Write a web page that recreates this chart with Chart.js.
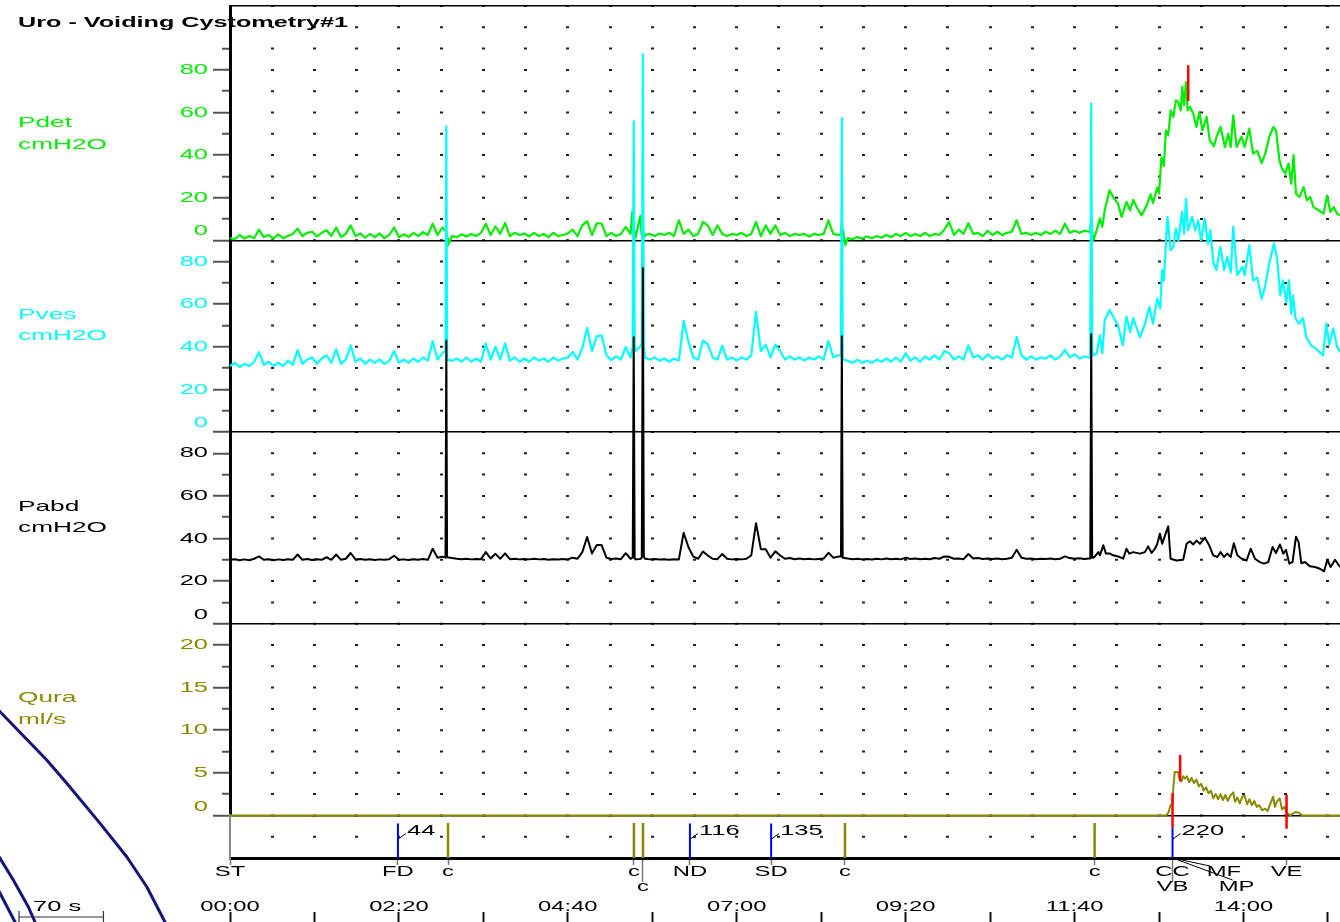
<!DOCTYPE html>
<html>
<head>
<meta charset="utf-8">
<title>Uro - Voiding Cystometry#1</title>
<script src="https://cdn.jsdelivr.net/npm/chart.js@4.4.1/dist/chart.umd.min.js"></script>
<style>
  html, body { margin: 0; padding: 0; background: #fff; overflow: hidden; }
  #wrap { position: relative; width: 1340px; height: 922px; }
</style>
</head>
<body>
<div id="wrap"><canvas id="uroChart"></canvas></div>
<script>
const FONT = '"Liberation Sans", Arial, Helvetica, sans-serif';
const GREEN = '#00ee00';
const CYAN = '#00ffff';
const OLIVE = '#8a8a00';

// resting part of the record: one reading every 4 s, 0..712 s
const restSecs = [];
for (let s = 0; s <= 712; s += 4) restSecs.push(s);

const pdetRest = [
  1, 0.5, 2.5, 0.8, 2, 1, 5, 1.5, 2.5, 0.8,
  2.8, 1, 2, 3, 5.5, 2, 3.5, 4, 1.8, 3.5,
  4.7, 2, 6, 1.5, 3, 7, 2, 3.2, 1.2, 3,
  1.5, 3.2, 1, 2.5, 6, 1.5, 2.8, 1.6, 3.5, 2,
  3.8, 2.5, 7.8, 2.5, 6, 1, 2, 1.5, 2.8, 1.8,
  3, 2, 3.5, 7.8, 2.5, 6.5, 3, 8.1, 2, 3.5,
  2.5, 3.2, 1.8, 3.5, 2, 3, 1.5, 3.5, 2, 2.5,
  3.2, 5, 2, 7, 9, 2.5, 8, 7.8, 2, 3.5,
  2, 3, 6.3, 3, 1, 11.4, 2.5, 3, 2, 3.2,
  2.5, 3.5, 2, 9.4, 3, 5, 2, 3, 8.6, 7,
  2.5, 7, 3, 2, 3, 2.5, 3.5, 2, 3, 8.6,
  2, 7, 3, 7, 2.5, 3.5, 2, 3, 2.5, 3,
  1.8, 3, 2.5, 3, 9.4, 3, 2.5, 5, 1, 0.5,
  1.5, 0.8, 1.8, 1, 2, 1.2, 2.5, 1.5, 3, 2,
  3.5, 2, 3, 2, 3.5, 2, 3, 2.5, 5, 8.6,
  2.5, 5, 3, 8, 3, 3.5, 2, 4.5, 2.5, 4,
  2.5, 3.5, 4, 9.4, 3, 3.5, 2.5, 3.5, 2.5, 4,
  3, 4.5, 3, 7.8, 3.5, 4.5, 3.5, 4.5, 4
];
const pvesRest = [
  31, 32.5, 30.5, 32, 31, 33, 37.5, 31.5, 33, 31,
  32.5, 31, 33.5, 31.5, 38.4, 32, 34, 35, 32, 34.5,
  36, 32.5, 38.8, 32, 34, 40.7, 33, 34.5, 32, 34,
  32.5, 34, 32, 33.5, 37.9, 32.5, 34, 32.5, 34.5, 33,
  35, 33.5, 42.6, 34, 37, 34, 33.5, 34.5, 33, 35,
  33, 34.5, 33, 41.6, 34, 40, 34, 41.6, 33.5, 35,
  33, 34.5, 33, 35, 33.5, 34.5, 33, 35, 33.5, 34.5,
  35, 37.6, 34, 39.4, 48.8, 38, 44.9, 45.4, 36, 33.7,
  35.5, 34, 39.9, 35, 38, 40, 35, 34, 35, 33.5,
  34.5, 33, 34.5, 33.5, 52.1, 42.3, 35, 34, 43, 41.3,
  35, 34, 40.5, 34, 35, 33.5, 35, 34, 36, 56.3,
  38, 41, 35, 41, 38, 34, 35.5, 34, 35, 33.5,
  35, 34, 35.5, 34, 42.7, 35, 36, 34, 33.5, 32.5,
  34, 32.5, 33.5, 32.5, 34, 33, 34.5, 33, 35, 33,
  37, 33.5, 35, 33, 35.5, 34, 36, 34, 38, 37,
  34, 35.5, 34, 40.7, 35, 36, 34, 36.5, 34.5, 35.5,
  34, 36, 35, 44.6, 36, 34, 35.5, 34, 35, 34.5,
  36, 34, 35.5, 38.5, 35, 36.5, 34.5, 35.5, 35
];
const pabdRest = [
  30, 30.3, 29.8, 30.2, 29.8, 30.5, 31.6, 30, 30.3, 29.8,
  30.2, 29.9, 30.3, 30, 32.5, 30, 30.4, 29.9, 30.3, 30,
  31.2, 30, 32.5, 30, 30.5, 33.2, 30.2, 30.4, 30, 30.3,
  29.9, 30.2, 30, 30.3, 31.9, 30, 30.2, 29.9, 30.3, 30,
  30.4, 30, 35.2, 31, 31.5, 31.2, 30.8, 30.5, 30.3, 30.5,
  30.2, 30.4, 30.3, 33.6, 30.6, 32.8, 30.5, 33, 30.3, 30.5,
  30.2, 30.4, 30.2, 30.5, 30.2, 30.4, 30, 30.3, 30.1, 30.4,
  30.2, 31, 30.5, 33.6, 40.7, 33, 36.9, 36.9, 31, 30.4,
  30.6, 30.3, 33.1, 30.5, 30.2, 30.4, 30.5, 30.2, 30.4, 30.1,
  30.3, 30, 30.3, 30.1, 42.7, 35.9, 31.5, 30.5, 33.9, 32,
  30.5, 30.3, 32.7, 30.5, 30.2, 30.4, 30.2, 30.5, 32, 47.2,
  35, 34.9, 31, 34, 32, 30.5, 30.8, 30.3, 30.6, 30.3,
  30.5, 30.2, 30.4, 30.6, 33.3, 31, 31.5, 31, 30.6, 30.3,
  30.5, 30.2, 30.4, 30.1, 30.5, 30.2, 30.6, 30.3, 30.5, 30.2,
  31, 30.4, 30.6, 30.3, 30.5, 30.3, 30.8, 30.5, 31.6, 31.4,
  30.5, 30.6, 30.3, 32.7, 30.6, 30.8, 30.4, 30.6, 30.4, 30.6,
  30.3, 30.5, 31, 34.7, 31, 30.5, 30.6, 30.3, 30.5, 30.4,
  30.6, 30.3, 30.5, 31.6, 30.8, 30.5, 30.7, 30.4, 30.6
];

// cough spikes (narrow), shared clock for Pves and Pabd
const spikeSecs = [178.6, 179.3, 179.9, 333.8, 334.6, 335.4, 341.3, 342.2, 343.0, 506.4, 507.1, 507.8, 713.0, 713.8, 714.6];
const pvesSpike = [38, 143.5, 40, 40, 145.8, 42, 42, 177.3, 40, 36, 147.4, 36, 35, 154.3, 38];
const pabdSpike = [31, 133, 31.5, 31, 134.5, 30.8, 31, 167, 31.5, 31.5, 135, 31.2, 30.6, 135.9, 31];
const pdetSpikeSecs = [179.3, 180.6, 333.4, 334.6, 335.4, 341.3, 342.2, 343.0, 506.4, 507.1, 507.8, 510, 713.0, 713.8, 714.6];
const pdetSpike = [4, -2.3, 13.3, 2, 4, 2, 6, 1, 3, 9, 2, -2.3, 4, 11, 3];

// voiding phase, read point by point
const pdetVoidSecs = [715.5, 718.3, 721, 723, 725, 729, 732, 736, 739, 743, 746, 748.7, 751.5, 755.6, 759.8, 763, 765, 768.5, 770, 772,
  774, 775.7, 777.6, 779.7, 781.8, 784, 786, 788, 789.3, 790.7, 792.4, 793.7, 795.6, 798.4, 801, 803.4, 806, 809.5, 812, 815.5,
  817.7, 821, 824.6, 827.4, 829.4, 831.5, 834.3, 838.4, 841, 844.8, 848, 851.4, 855, 857.8, 861.4, 864.7, 867, 869.8, 871.8, 874.6,
  877.3, 879.6, 881.5, 883.5, 886.5, 889.8, 892.6, 895.4, 898, 902.3, 906.4, 909.3, 912, 914.8, 917.6, 920];
const pdetVoid = [0, 4.7, 10.2, 6.3, 14.1, 23.5, 20.3, 17.2, 11, 18, 14.1, 19, 15.5, 11.7, 16.4, 21.6, 17.5, 24.7, 22, 38.8,
  34.9, 51.6, 49.3, 61, 57.9, 65.7, 64.9, 61, 72, 63.4, 74.3, 61, 62.6, 59.5, 53.2, 60.2, 51.6, 57.9, 47, 44.2,
  48.6, 53.2, 43.8, 50, 43.8, 58.7, 43.8, 48.6, 43.8, 52.4, 40.7, 42, 36.3, 40.2, 48.6, 53.2, 51.6, 37.6, 33.8, 31.3,
  36, 26.6, 40, 22, 20.3, 25, 18.8, 20.3, 15.6, 14.1, 12.5, 21, 13.3, 15.6, 12.5, 11.7];

const pvesVoidSecs = [715.5, 718.3, 721, 723, 725, 729, 732, 736, 740, 743, 746, 748.7, 754, 758, 762, 765, 768.5, 771, 772.5, 774,
  777, 779.7, 781.8, 784, 786, 789, 790.7, 792.4, 794, 797.5, 800, 802.5, 804.8, 808, 810.5, 812.5, 815, 817.5, 820.8, 824,
  826.5, 829.5, 831.5, 834.8, 839, 841, 844.8, 848, 851.4, 855, 857.8, 861.4, 865.2, 867.8, 870.5, 872.7, 875.5, 877.7, 879.6, 881,
  883.2, 886, 889.3, 892, 896, 900, 906, 908.7, 911, 914.4, 917.6, 920];
const pvesVoid = [36, 36.8, 45.4, 37, 52.6, 57.3, 54.2, 50, 40.7, 54.2, 47, 53.5, 44.6, 50, 58.7, 50.9, 62.6, 58, 76, 71.2,
  101, 85.3, 86.9, 95.5, 90, 103.3, 93.1, 109.5, 94.7, 101, 94.7, 99.4, 90, 100, 88.4, 94.7, 79.8, 76, 86.9, 76,
  82.2, 75, 96.3, 73.6, 77.5, 73.6, 87.6, 71.2, 72.5, 62.6, 68, 79.2, 88.4, 82, 64.2, 71.2, 61, 71.2, 55.5, 64.2,
  53.2, 50.9, 53.5, 44.6, 40.7, 39.1, 36, 50.9, 41, 48.6, 39.9, 37.5];

const pabdVoidSecs = [715.5, 716.9, 719.7, 721, 723.8, 726, 729.3, 732, 737.6, 740.3, 743, 745.3, 748.6, 754.2, 758.3, 761, 763.9, 766.6, 768.5, 770.8,
  772.6, 775, 777.6, 779.6, 784.5, 790, 792.9, 795.6, 798.4, 801.1, 803.9, 808, 811.6, 814.9, 818.3, 821, 823.8, 826.6, 829.4, 832,
  834.9, 838.5, 842.6, 846, 849.5, 853.6, 857, 860.5, 864.1, 866.9, 870.2, 873, 875.2, 878, 880.7, 883.5, 885.7, 887.9, 891, 895,
  899.3, 903.4, 906.8, 909.5, 912.3, 915.9, 920];
const pabdVoid = [31, 31.6, 33.6, 32.1, 36.8, 32.9, 32.9, 32.1, 31.3, 30.5, 35.2, 32.9, 33.6, 32.9, 33.6, 36.3, 33.2, 35.2, 37.5, 42.3,
  37.5, 41.5, 45.7, 30.5, 29.7, 30, 37.5, 38.7, 37.2, 39, 37.5, 40.4, 36.8, 32.1, 31.3, 33.6, 31.3, 32.9, 31.3, 37.8,
  32.1, 30.5, 29.7, 35.2, 30.5, 28.9, 28.2, 28.9, 36, 33.2, 37.2, 32.9, 34.7, 28.2, 29, 40.8, 38.3, 28.4, 29, 27,
  26.6, 25.8, 24.6, 30, 26.6, 30, 26.6];

const quraSecs = [0, 776, 778, 779.5, 781, 782, 783, 785.6, 787, 788.5, 790, 791.5, 793, 795, 797, 799, 801, 803, 805, 807,
  809, 811, 813, 815, 817, 819, 821, 823, 825, 827, 829, 831.5, 833, 835, 837, 839, 841, 843, 845, 847,
  849, 851, 853, 855.6, 858, 860, 862, 864.6, 866, 868, 870, 872, 874, 876, 878.6, 881, 883, 886, 888.6, 920];
const quraVals = [0, 0, 0.4, 1.2, 1.3, 3.5, 5.1, 5.1, 4.3, 4.0, 4.6, 4.3, 4.6, 3.9, 4.4, 3.8, 4.2, 3.4, 3.7, 2.9,
  3.3, 2.6, 2.9, 2.0, 2.5, 1.9, 2.5, 1.8, 2.4, 1.7, 2.3, 2.7, 1.6, 2.1, 1.4, 2.2, 2.3, 1.3, 1.9, 1.2,
  1.7, 1.0, 1.2, 0.6, 0.8, 0.5, 1.3, 2.2, 1.0, 1.7, 2.0, 0.7, 1.0, 0.3, 0, 0.2, 0.4, 0.3, 0, 0];

// event row
const eventSecs = [0, 139.2, 180.7, 334.8, 342.3, 381.2, 448.5, 509.7, 716.6, 781.2, 823.8, 834.3, 875.7];
const eventLabels = ['ST', 'FD', 'c', 'c', ['', 'c'], 'ND', 'SD', 'c', 'c', ['CC', 'VB'], 'MF', ['', 'MP'], 'VE'];
const blueMarkSecs = [139.2, 381.2, 448.5, 781.2];
const blueMarkTop = [1.62, 1.62, 1.62, 1.42];
const cMarkSecs = [180.7, 334.8, 342.3, 509.7, 716.6];
const redQuraSecs = [781.2, 787.5, 875.7];
const redQuraLow = [-1.45, 4.0, -1.57];
const redQuraHigh = [2.6, 7.1, 2.45];
const redPdetSecs = [794.2];
const redPdetLow = [65.4];
const redPdetHigh = [82.2];
const volumeSecs = [139.2, 381.2, 448.5, 781.2];
const volumeLabels = ['44', '116', '135', '220'];

// time ruler
const timeTickSecs = [0, 70, 140, 210, 280, 350, 420, 490, 560, 630, 700, 770, 840, 910];
const timeTickLabels = ['00:00', '', '02:20', '', '04:40', '', '07:00', '', '09:20', '', '11:40', '', '14:00', ''];
const dotSecs = [];
for (let s = 35; s < 920; s += 35) dotSecs.push(s);

// curves of the window lying behind, bottom left (time s, Qura units)
const behindA_secs = [-48.1, -53.9, -69.0, -85.6, -107.7, -135.3, -151.9, -190.6, -194.8];
const behindA_vals = [-14.15, -12.51, -8.37, -4.85, -0.93, 3.77, 6.5, 12.17, 12.84];
const behindB_secs = [-159.1, -161.6, -167.2, -179.6, -190.6, -193.9];
const behindB_vals = [-13.45, -12.51, -10.72, -7.58, -5.04, -4.3];
const behindC_secs = [-176.5, -178.2, -190.6, -193.1];
const behindC_vals = [-13.2, -12.51, -9.14, -8.5];

function trace(parts) {
  const pts = [];
  parts.forEach(([ts, vs]) => ts.forEach((t, i) => pts.push({ x: t, y: vs[i] })));
  return pts.sort((a, b) => a.x - b.x);
}
function strokes(ts, lo, hi) {
  const pts = [];
  ts.forEach((t, i) => {
    pts.push({ x: t, y: Array.isArray(lo) ? lo[i] : lo });
    pts.push({ x: t, y: Array.isArray(hi) ? hi[i] : hi });
    pts.push({ x: t, y: null });
  });
  return pts;
}
function raw(ts, vs) {
  return ts.map((t, i) => ({ x: t, y: vs[i] }));
}

// the recorder prints with a wide (horizontally stretched) sans face
const canvas = document.getElementById('uroChart');
const ctx2d = canvas.getContext('2d');
const plainFillText = ctx2d.fillText;
ctx2d.textStretch = 1.7;
ctx2d.fillText = function (text, x, y, maxWidth) {
  this.save();
  this.translate(x, y);
  this.scale(this.textStretch, 1);
  if (maxWidth === undefined) plainFillText.call(this, text, 0, 0);
  else plainFillText.call(this, text, 0, 0, maxWidth / this.textStretch);
  this.restore();
};

function fitLeft(axis) {
  axis.width = 230;
  axis.paddingTop = 0;
  axis.paddingBottom = 0;
}
function panelAxis(o) {
  return {
    type: 'linear', position: 'left', stack: 'panels', stackWeight: o.rows, weight: o.weight,
    min: 0, max: o.max,
    afterBuildTicks: axis => { axis.ticks = o.ticks.map(v => ({ value: v })); },
    afterFit: fitLeft,
    border: { display: true, color: '#000', width: 3 },
    grid: {
      color: c => (c.tick && (c.tick.value === 0 || c.tick.value === o.max)) ? '#000' : 'rgba(0,0,0,0)',
      lineWidth: 1.5,
      tickLength: 17,
      tickWidth: 2,
      tickColor: c => (c.tick && c.tick.value === o.max) ? 'rgba(0,0,0,0)' : '#555',
      tickBorderDash: c => (c.tick && c.tick.value % o.major === 0) ? [] : [0, 9, 8, 0]
    },
    ticks: {
      color: o.color, padding: 5, autoSkip: false,
      font: { family: FONT, size: 15 },
      callback: v => v === 0 ? ['0', ''] : (v % o.major === 0 && v !== o.max ? String(v) : '')
    }
  };
}

const lineBase = { pointRadius: 0, pointHoverRadius: 0, tension: 0, fill: false, clip: false, xAxisID: 'x', borderJoinStyle: 'round' };

const paperText = {
  id: 'paperText',
  afterDraw(chart) {
    const { ctx, scales, chartArea } = chart;
    const x = scales.x, ev = scales.yEv;
    ctx.save();
    ctx.textBaseline = 'middle';
    ctx.textAlign = 'left';

    ctx.fillStyle = '#000';
    ctx.font = 'bold 14px ' + FONT;
    ctx.textStretch = 1.8;
    ctx.fillText('Uro - Voiding Cystometry#1', 18, 23);

    ctx.font = '15px ' + FONT;
    ctx.textStretch = 1.75;
    [
      { axis: 'yDet', name: 'Pdet', unit: 'cmH2O', color: GREEN, at: [55, 45] },
      { axis: 'yVes', name: 'Pves', unit: 'cmH2O', color: CYAN, at: [55, 45] },
      { axis: 'yAbd', name: 'Pabd', unit: 'cmH2O', color: '#000', at: [55, 45] },
      { axis: 'yQ', name: 'Qura', unit: 'ml/s', color: OLIVE, at: [13.75, 11.25] }
    ].forEach(p => {
      const sc = scales[p.axis];
      ctx.fillStyle = p.color;
      ctx.fillText(p.name, 18, sc.getPixelForValue(p.at[0]));
      ctx.fillText(p.unit, 18, sc.getPixelForValue(p.at[1]));
    });

    // infused volume notes with their small leaders
    ctx.textStretch = 1.7;
    ctx.fillStyle = '#000';
    ctx.strokeStyle = '#000';
    ctx.lineWidth = 1;
    volumeSecs.forEach((t, i) => {
      const px = x.getPixelForValue(t);
      ctx.beginPath();
      ctx.moveTo(px, ev.getPixelForValue(0.88));
      ctx.lineTo(px + 8, ev.getPixelForValue(1.15));
      ctx.stroke();
      ctx.fillText(volumeLabels[i], px + 9, ev.getPixelForValue(1.26));
    });

    // MF / MP leaders
    const vb = x.getPixelForValue(781.2);
    ctx.beginPath();
    ctx.moveTo(vb, chartArea.bottom);
    ctx.lineTo(x.getPixelForValue(823.8) - 14, chartArea.bottom + 8);
    ctx.moveTo(vb, chartArea.bottom);
    ctx.lineTo(x.getPixelForValue(834.3) - 4, chartArea.bottom + 22);
    ctx.stroke();

    // 70 s scale bar
    const span = x.getPixelForValue(70) - x.getPixelForValue(0);
    ctx.strokeStyle = '#333';
    ctx.lineWidth = 1.2;
    ctx.beginPath();
    ctx.moveTo(19, 917); ctx.lineTo(19 + span, 917);
    ctx.moveTo(19, 911); ctx.lineTo(19, 922);
    ctx.moveTo(19 + span, 911); ctx.lineTo(19 + span, 922);
    ctx.stroke();
    ctx.fillText('70 s', 33, 907);
    ctx.restore();
  }
};

Chart.defaults.font.family = FONT;

new Chart(canvas, {
  type: 'line',
  data: {
    datasets: [
      { ...lineBase, label: 'Pdet mark', data: strokes(redPdetSecs, redPdetLow, redPdetHigh), yAxisID: 'yDet', borderColor: '#ff0000', borderWidth: 2.5 },
      { ...lineBase, label: 'Qura marks', data: strokes(redQuraSecs, redQuraLow, redQuraHigh), yAxisID: 'yQ', borderColor: '#ff0000', borderWidth: 2.5 },
      { ...lineBase, label: 'volume marks', data: strokes(blueMarkSecs, 0, blueMarkTop), yAxisID: 'yEv', borderColor: '#0000ff', borderWidth: 2 },
      { ...lineBase, label: 'cough marks', data: strokes(cMarkSecs, 0, 1.64), yAxisID: 'yEv', borderColor: OLIVE, borderWidth: 2.5 },
      { ...lineBase, label: 'Pabd', data: trace([[restSecs, pabdRest], [spikeSecs, pabdSpike], [pabdVoidSecs, pabdVoid]]), yAxisID: 'yAbd', borderColor: '#000', borderWidth: 2 },
      { ...lineBase, label: 'Pves', data: trace([[restSecs, pvesRest], [spikeSecs, pvesSpike], [pvesVoidSecs, pvesVoid]]), yAxisID: 'yVes', borderColor: CYAN, borderWidth: 2.2 },
      { ...lineBase, label: 'Pdet', data: trace([[restSecs, pdetRest], [pdetSpikeSecs, pdetSpike], [pdetVoidSecs, pdetVoid]]), yAxisID: 'yDet', borderColor: GREEN, borderWidth: 2.2 },
      { ...lineBase, label: 'Qura', data: trace([[quraSecs, quraVals]]), yAxisID: 'yQ', borderColor: OLIVE, borderWidth: 2 },
      { ...lineBase, label: 'behind A', data: raw(behindA_secs, behindA_vals), yAxisID: 'yQ', borderColor: '#14147a', borderWidth: 3 },
      { ...lineBase, label: 'behind B', data: raw(behindB_secs, behindB_vals), yAxisID: 'yQ', borderColor: '#14147a', borderWidth: 3 },
      { ...lineBase, label: 'behind C', data: raw(behindC_secs, behindC_vals), yAxisID: 'yQ', borderColor: '#14147a', borderWidth: 3 }
    ]
  },
  options: {
    responsive: true,
    maintainAspectRatio: false,
    animation: false,
    events: [],
    layout: { autoPadding: false, padding: { left: 0, top: 6, right: 0, bottom: 0 } },
    plugins: { legend: { display: false }, tooltip: { enabled: false }, title: { display: false } },
    scales: {
      x: {
        type: 'linear', position: 'bottom', weight: 0, min: 0, max: 920,
        afterBuildTicks: axis => { axis.ticks = dotSecs.map(v => ({ value: v })); },
        afterFit: axis => { axis.height = 0; axis.paddingLeft = 0; axis.paddingRight = 0; },
        border: { display: false, dash: [2, 19.3], dashOffset: 1 },
        grid: { drawTicks: false, color: '#222', lineWidth: 3 },
        ticks: { display: false }
      },
      xEv: {
        type: 'linear', position: 'bottom', weight: 1, min: 0, max: 920,
        afterBuildTicks: axis => { axis.ticks = eventSecs.map(v => ({ value: v })); },
        afterFit: axis => { axis.height = 54; axis.paddingLeft = 0; axis.paddingRight = 0; },
        border: { display: false },
        grid: {
          drawOnChartArea: false, tickLength: 24, tickWidth: 1.5,
          tickColor: c => {
            const t = [].concat(eventLabels[c.index]).join('');
            return (t === 'MF' || t === 'MP') ? 'rgba(0,0,0,0)' : '#777';
          },
          tickBorderDash: c => Array.isArray(eventLabels[c.index]) ? [] : [7, 100]
        },
        ticks: {
          autoSkip: false, maxRotation: 0, minRotation: 0, padding: -17.5, color: '#000',
          font: { family: FONT, size: 14, lineHeight: '15px' },
          callback: (v, i) => eventLabels[i]
        }
      },
      xTime: {
        type: 'linear', position: 'bottom', weight: 2, min: 0, max: 920,
        afterBuildTicks: axis => { axis.ticks = timeTickSecs.map(v => ({ value: v })); },
        afterFit: axis => { axis.height = 10; axis.paddingLeft = 0; axis.paddingRight = 0; },
        border: { display: false },
        grid: { drawOnChartArea: false, tickLength: 10, tickWidth: 2, tickColor: '#111' },
        ticks: {
          autoSkip: false, maxRotation: 0, minRotation: 0, mirror: true, padding: -4, color: '#000',
          font: { family: FONT, size: 14 },
          callback: (v, i) => timeTickLabels[i]
        }
      },
      yDet: panelAxis({ rows: 11, weight: 5, max: 110, major: 20, color: GREEN, ticks: [0, 10, 20, 30, 40, 50, 60, 70, 80, 90, 110] }),
      yVes: panelAxis({ rows: 9, weight: 4, max: 90, major: 20, color: CYAN, ticks: [0, 10, 20, 30, 40, 50, 60, 70, 80] }),
      yAbd: panelAxis({ rows: 9, weight: 3, max: 90, major: 20, color: '#000', ticks: [0, 10, 20, 30, 40, 50, 60, 70, 80] }),
      yQ: panelAxis({ rows: 9, weight: 2, max: 22.5, major: 5, color: OLIVE, ticks: [0, 2.5, 5, 7.5, 10, 12.5, 15, 17.5, 20] }),
      yEv: {
        type: 'linear', position: 'left', stack: 'panels', stackWeight: 2, weight: 1, min: 0, max: 2,
        afterBuildTicks: axis => { axis.ticks = [{ value: 0 }]; },
        afterFit: fitLeft,
        border: { display: true, color: '#888', width: 2 },
        grid: { color: '#000', lineWidth: 3, tickColor: 'rgba(0,0,0,0)', tickLength: 17 },
        ticks: { callback: () => '' }
      }
    }
  },
  plugins: [paperText]
});
</script>
</body>
</html>
